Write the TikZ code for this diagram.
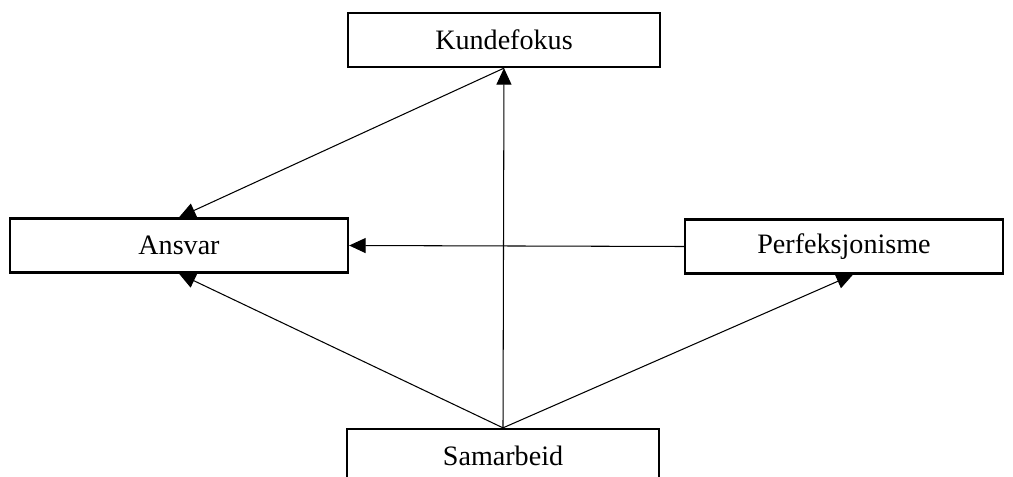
\documentclass[tikz,border=0pt]{standalone}
\usepackage{fontspec}
\setmainfont{Liberation Serif}
\usetikzlibrary{arrows.meta,positioning}

\begin{document}
\begin{tikzpicture}
            \tikzstyle{factor} = [rectangle, draw, line width=1.3pt, minimum height=1.08cm, font=\fontsize{16}{19}\selectfont, inner sep=0pt]
            \tikzstyle{arrow} = [line width=0.6pt, -{Triangle[length=0.33cm, width=0.3cm]}]

            \useasboundingbox (0,0) rectangle (20.26,9.52);
            \clip (0,0) rectangle (20.26,9.52);

            % Factors
            \node [factor, minimum width=6.24cm] (kunde) at (10.08,8.72) {Kundefokus};
            \node [factor, minimum width=6.76cm] (ansvar) at (3.58,4.61) {Ansvar};
            \node [factor, minimum width=6.36cm] (perf) at (16.88,4.59) {Perfeksjonisme};
            \node [factor, minimum width=6.24cm] (samarbeid) at (10.06,0.40) {Samarbeid};

            % Arrows
            \draw [arrow] (kunde.south) -- (ansvar.north);
            \draw [arrow] (samarbeid.north) -- (kunde.south);
            \draw [arrow] (perf.west) -- (ansvar.east);
            \draw [arrow] (samarbeid.north) -- (ansvar.south);
            \draw [arrow] (samarbeid.north) -- ([xshift=0.18cm]perf.south);
\end{tikzpicture}
\end{document}
